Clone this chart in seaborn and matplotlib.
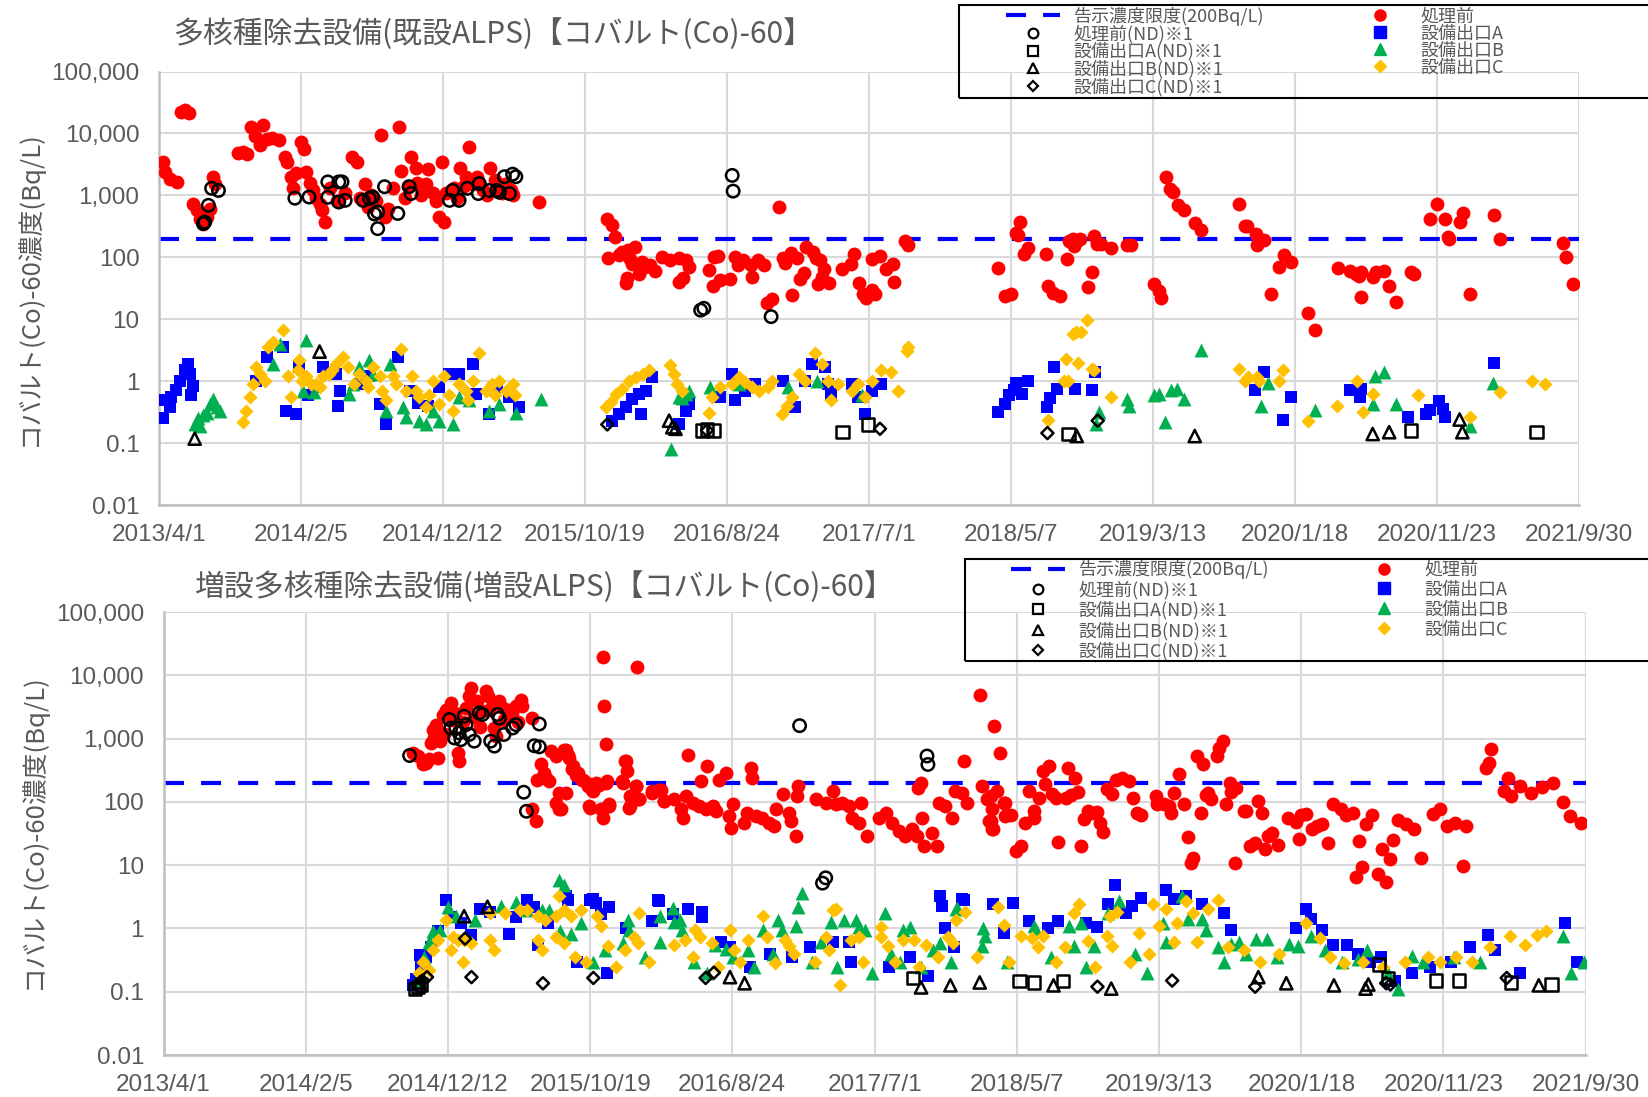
import pandas as pd
import matplotlib
matplotlib.use("Agg")
import matplotlib.pyplot as plt
import seaborn as sns
from matplotlib.lines import Line2D
from matplotlib.patches import Rectangle
from matplotlib.ticker import NullLocator

# ===== DATA =====
LIMIT = 200  # 告示濃度限度 (Bq/L)

TICK_DATES = ["2013-04-01", "2014-02-05", "2014-12-12", "2015-10-19", "2016-08-24",
              "2017-07-01", "2018-05-07", "2019-03-13", "2020-01-18", "2020-11-23", "2021-09-30"]
TICK_LABELS = ["2013/4/1", "2014/2/5", "2014/12/12", "2015/10/19", "2016/8/24",
               "2017/7/1", "2018/5/7", "2019/3/13", "2020/1/18", "2020/11/23", "2021/9/30"]
Y_TICKS = [0.01, 0.1, 1, 10, 100, 1000, 10000, 100000]
Y_LABELS = ["0.01", "0.1", "1", "10", "100", "1,000", "10,000", "100,000"]

TITLE_TOP = "多核種除去設備(既設ALPS)【コバルト(Co)-60】"
TITLE_BOTTOM = "増設多核種除去設備(増設ALPS)【コバルト(Co)-60】"
Y_TITLE = "コバルト(Co)-60濃度(Bq/L)"
LEGEND_LABELS = ["告示濃度限度(200Bq/L)", "処理前(ND)※1", "設備出口A(ND)※1", "設備出口B(ND)※1",
                 "設備出口C(ND)※1", "処理前", "設備出口A", "設備出口B", "設備出口C"]

# ---- 既設ALPS ----
top_red = [
    ("2013-04-09", 3500), ("2013-04-14", 2400), ("2013-04-25", 1850), ("2013-05-10", 1650),
    ("2013-05-20", 22000), ("2013-05-28", 24000), ("2013-06-05", 21000), ("2013-06-15", 730),
    ("2013-06-22", 570), ("2013-06-29", 420), ("2013-07-06", 350), ("2013-07-14", 450),
    ("2013-07-22", 600), ("2013-07-28", 2000), ("2013-08-01", 1500), ("2013-09-20", 4800),
    ("2013-10-01", 5000), ("2013-10-10", 4600), ("2013-10-20", 12500), ("2013-10-28", 9000),
    ("2013-11-08", 6500), ("2013-11-15", 13500), ("2013-11-22", 8000), ("2013-12-05", 8300),
    ("2013-12-20", 7800), ("2014-01-02", 4200), ("2014-01-06", 3500), ("2014-01-15", 2000),
    ("2014-01-20", 1300), ("2014-01-26", 2300), ("2014-02-06", 7300), ("2014-02-12", 5700),
    ("2014-02-17", 2400), ("2014-02-25", 1600), ("2014-03-03", 1200), ("2014-03-10", 900),
    ("2014-03-18", 730), ("2014-03-24", 570), ("2014-03-29", 370), ("2014-04-10", 1300),
    ("2014-04-25", 800), ("2014-05-12", 1100), ("2014-05-28", 4200), ("2014-06-08", 3500),
    ("2014-06-15", 900), ("2014-06-26", 1500), ("2014-07-02", 650), ("2014-07-08", 1000),
    ("2014-07-20", 800), ("2014-07-31", 9400), ("2014-08-08", 450), ("2014-08-15", 600),
    ("2014-08-25", 1300), ("2014-09-08", 12700), ("2014-09-12", 2500), ("2014-09-20", 900),
    ("2014-09-28", 1400), ("2014-10-04", 4200), ("2014-10-14", 2800), ("2014-10-18", 1600),
    ("2014-10-25", 1000), ("2014-11-05", 1500), ("2014-11-10", 2700), ("2014-11-20", 1100),
    ("2014-11-28", 800), ("2014-12-05", 450), ("2014-12-10", 3500), ("2014-12-16", 370),
    ("2014-12-20", 1100), ("2015-01-05", 1300), ("2015-01-12", 900), ("2015-01-20", 2800),
    ("2015-01-28", 1400), ("2015-02-01", 2000), ("2015-02-08", 6000), ("2015-02-15", 1500),
    ("2015-02-25", 2000), ("2015-03-01", 1600), ("2015-03-10", 1200), ("2015-03-18", 1000),
    ("2015-03-25", 2800), ("2015-04-05", 1800), ("2015-04-10", 1300), ("2015-04-20", 1100),
    ("2015-04-28", 1500), ("2015-05-10", 1200), ("2015-05-15", 1000), ("2015-07-11", 780),
    ("2015-12-07", 420), ("2015-12-17", 330), ("2015-12-24", 210), ("2015-12-08", 98),
    ("2016-01-02", 110), ("2016-01-09", 123), ("2016-01-16", 38), ("2016-01-20", 46),
    ("2016-01-22", 130), ("2016-01-25", 95), ("2016-01-30", 78), ("2016-02-06", 148),
    ("2016-02-14", 54), ("2016-02-20", 85), ("2016-02-28", 69), ("2016-03-09", 74),
    ("2016-03-20", 60), ("2016-04-05", 100), ("2016-04-23", 89), ("2016-05-11", 98),
    ("2016-05-12", 40), ("2016-05-20", 46), ("2016-05-27", 89), ("2016-06-03", 69),
    ("2016-07-16", 63), ("2016-07-26", 35), ("2016-07-27", 100), ("2016-08-04", 104),
    ("2016-08-09", 43), ("2016-09-01", 45), ("2016-09-12", 100), ("2016-09-18", 74),
    ("2016-09-29", 89), ("2016-10-17", 74), ("2016-10-18", 48), ("2016-10-31", 89),
    ("2016-11-14", 74), ("2016-11-19", 18), ("2016-11-30", 21), ("2016-12-16", 650),
    ("2016-12-26", 98), ("2016-12-30", 80), ("2017-01-11", 117), ("2017-01-13", 25),
    ("2017-01-25", 98), ("2017-02-01", 44), ("2017-02-08", 55), ("2017-02-14", 145),
    ("2017-02-28", 122), ("2017-03-07", 98), ("2017-03-12", 37), ("2017-03-15", 89),
    ("2017-03-20", 48), ("2017-03-25", 65), ("2017-04-05", 38), ("2017-05-04", 65),
    ("2017-05-22", 78), ("2017-05-29", 114), ("2017-06-10", 38), ("2017-06-17", 26),
    ("2017-06-24", 22), ("2017-07-07", 94), ("2017-07-08", 30), ("2017-07-15", 26),
    ("2017-07-25", 104), ("2017-08-08", 65), ("2017-08-22", 78), ("2017-08-25", 40),
    ("2017-09-17", 186), ("2017-09-24", 155),
    ("2018-04-08", 67), ("2018-04-25", 24), ("2018-05-07", 26), ("2018-05-18", 250),
    ("2018-05-22", 225), ("2018-05-28", 365), ("2018-06-05", 115), ("2018-06-13", 140),
    ("2018-07-24", 115), ("2018-07-28", 34), ("2018-08-08", 27), ("2018-08-22", 24),
    ("2018-09-07", 94), ("2018-09-11", 185), ("2018-09-19", 200), ("2018-09-23", 150),
    ("2018-09-27", 175), ("2018-10-06", 200), ("2018-10-22", 33), ("2018-10-31", 57),
    ("2018-11-05", 224), ("2018-11-12", 165), ("2018-11-20", 165), ("2018-12-11", 142),
    ("2019-01-17", 155), ("2019-01-25", 155), ("2019-03-17", 37), ("2019-03-26", 29),
    ("2019-03-31", 22), ("2019-04-11", 1990), ("2019-04-21", 1280), ("2019-04-27", 1130),
    ("2019-05-07", 690), ("2019-05-20", 575), ("2019-06-13", 360), ("2019-06-26", 278),
    ("2019-09-18", 725), ("2019-09-30", 325), ("2019-10-06", 325), ("2019-10-24", 240),
    ("2019-10-27", 155), ("2019-11-12", 190), ("2019-11-27", 26), ("2019-12-15", 70),
    ("2019-12-25", 110), ("2020-01-09", 83), ("2020-02-16", 12.5), ("2020-03-02", 6.8),
    ("2020-04-22", 67), ("2020-05-17", 59), ("2020-05-31", 54), ("2020-06-07", 50),
    ("2020-06-10", 23), ("2020-06-11", 57), ("2020-07-06", 48), ("2020-07-13", 57),
    ("2020-07-30", 59), ("2020-08-11", 35), ("2020-08-26", 19), ("2020-09-27", 57),
    ("2020-10-04", 54), ("2020-11-09", 415), ("2020-11-23", 730), ("2020-12-10", 415),
    ("2020-12-18", 215), ("2020-12-20", 200), ("2021-01-12", 370), ("2021-01-19", 510),
    ("2021-02-03", 26), ("2021-03-29", 490), ("2021-04-11", 200), ("2021-08-25", 170),
    ("2021-09-01", 100), ("2021-09-17", 37),
]
top_blue = [
    ("2013-04-09", 0.25), ("2013-04-14", 0.49), ("2013-04-25", 0.38), ("2013-04-28", 0.55),
    ("2013-05-09", 0.71), ("2013-05-16", 1.0), ("2013-05-27", 1.5), ("2013-06-03", 1.9),
    ("2013-06-07", 1.3), ("2013-06-10", 0.6), ("2013-06-15", 0.85), ("2013-10-31", 1.0),
    ("2013-11-22", 2.45), ("2013-12-28", 3.5), ("2014-01-04", 0.33), ("2014-01-26", 0.30),
    ("2014-02-02", 1.7), ("2014-02-20", 0.6), ("2014-03-05", 0.8), ("2014-03-25", 1.7),
    ("2014-04-23", 1.3), ("2014-04-27", 0.4), ("2014-05-01", 0.7), ("2014-06-15", 0.9),
    ("2014-07-05", 1.2), ("2014-07-27", 0.43), ("2014-08-11", 0.2), ("2014-09-05", 2.45),
    ("2014-10-01", 0.7), ("2014-10-20", 0.45), ("2014-11-10", 0.4), ("2014-12-05", 0.8),
    ("2014-12-27", 1.3), ("2015-01-17", 1.3), ("2015-02-16", 1.9), ("2015-02-23", 0.62),
    ("2015-03-24", 0.3), ("2015-04-10", 0.8), ("2015-05-05", 0.55), ("2015-05-28", 0.38),
    ("2015-12-18", 0.23), ("2016-01-02", 0.30), ("2016-01-16", 0.38), ("2016-01-31", 0.52),
    ("2016-02-14", 0.62), ("2016-02-18", 0.30), ("2016-02-29", 0.70), ("2016-03-14", 1.16),
    ("2016-05-11", 0.2), ("2016-05-26", 0.33), ("2016-06-02", 0.43), ("2016-08-10", 0.55),
    ("2016-09-05", 1.3), ("2016-09-12", 0.49), ("2016-10-04", 0.7), ("2016-10-25", 0.9),
    ("2016-12-26", 1.0), ("2017-01-21", 0.38), ("2017-02-11", 1.0), ("2017-02-26", 1.9),
    ("2017-03-27", 1.7), ("2017-04-03", 0.9), ("2017-04-10", 0.62), ("2017-05-24", 0.9),
    ("2017-06-07", 0.55), ("2017-06-22", 0.30), ("2017-07-07", 0.7), ("2017-07-28", 0.9),
    ("2018-04-08", 0.32), ("2018-04-25", 0.43), ("2018-05-03", 0.59), ("2018-05-15", 0.71),
    ("2018-05-19", 0.95), ("2018-05-31", 0.63), ("2018-06-13", 1.02), ("2018-07-26", 0.38),
    ("2018-08-01", 0.54), ("2018-08-09", 1.7), ("2018-08-17", 0.75), ("2018-09-24", 0.75),
    ("2018-11-01", 0.71), ("2018-11-06", 1.4), ("2019-10-23", 0.71), ("2019-11-12", 1.4),
    ("2019-12-23", 0.24), ("2020-01-09", 0.56), ("2020-05-17", 0.71), ("2020-06-08", 0.56),
    ("2020-06-10", 0.76), ("2020-09-21", 0.26), ("2020-10-30", 0.3), ("2020-11-09", 0.34),
    ("2020-11-28", 0.48), ("2020-12-06", 0.36), ("2020-12-10", 0.26), ("2021-03-29", 2.0),
]
top_green = [
    ("2013-06-19", 0.2), ("2013-06-26", 0.25), ("2013-06-29", 0.19), ("2013-07-07", 0.28),
    ("2013-07-14", 0.31), ("2013-07-21", 0.43), ("2013-07-28", 0.52), ("2013-08-05", 0.38),
    ("2013-08-12", 0.33), ("2013-12-06", 1.9), ("2013-12-21", 4.0), ("2014-02-10", 0.7),
    ("2014-02-17", 4.6), ("2014-03-05", 0.66), ("2014-05-22", 0.62), ("2014-05-30", 0.9),
    ("2014-06-13", 1.7), ("2014-07-05", 2.2), ("2014-07-12", 1.3), ("2014-08-11", 0.33),
    ("2014-08-18", 1.9), ("2014-09-16", 0.38), ("2014-09-23", 0.26), ("2014-10-22", 0.23),
    ("2014-11-06", 0.2), ("2014-11-20", 0.33), ("2014-12-05", 0.23), ("2015-01-03", 0.2),
    ("2015-01-17", 0.55), ("2015-02-08", 0.49), ("2015-03-24", 0.33), ("2015-04-15", 0.43),
    ("2015-05-21", 0.31), ("2015-07-15", 0.52), ("2016-04-24", 0.08), ("2016-05-11", 0.55),
    ("2016-05-18", 0.54), ("2016-05-26", 0.62), ("2016-06-02", 0.7), ("2016-07-19", 0.8),
    ("2016-09-20", 0.9), ("2017-01-05", 0.8), ("2017-03-10", 1.0), ("2017-06-15", 0.6),
    ("2018-11-09", 0.2), ("2018-11-16", 0.32), ("2019-01-17", 0.52), ("2019-01-21", 0.39),
    ("2019-03-17", 0.59), ("2019-03-27", 0.63), ("2019-04-08", 0.22), ("2019-04-23", 0.72),
    ("2019-05-05", 0.74), ("2019-05-20", 0.52), ("2019-06-26", 3.2), ("2019-11-05", 0.39),
    ("2019-11-21", 0.92), ("2020-03-02", 0.34), ("2020-07-07", 0.42), ("2020-07-11", 1.23),
    ("2020-07-30", 1.4), ("2020-08-26", 0.43), ("2021-02-03", 0.19), ("2021-03-27", 0.92),
]
top_gold = [
    ("2013-10-02", 0.22), ("2013-10-09", 0.33), ("2013-10-16", 0.55), ("2013-10-24", 0.9),
    ("2013-10-31", 1.7), ("2013-11-07", 1.3), ("2013-11-18", 1.0), ("2013-11-25", 3.5),
    ("2013-12-06", 4.3), ("2013-12-28", 6.6), ("2014-01-08", 1.2), ("2014-01-15", 0.55),
    ("2014-01-30", 1.5), ("2014-02-02", 2.2), ("2014-02-08", 1.0), ("2014-02-17", 1.2),
    ("2014-02-28", 0.9), ("2014-03-11", 0.9), ("2014-03-18", 0.8), ("2014-03-25", 1.2),
    ("2014-04-08", 1.3), ("2014-04-15", 1.5), ("2014-04-23", 1.9), ("2014-05-08", 2.45),
    ("2014-05-19", 1.7), ("2014-06-01", 0.9), ("2014-06-13", 1.3), ("2014-06-28", 1.0),
    ("2014-07-02", 0.8), ("2014-07-12", 1.7), ("2014-07-27", 1.2), ("2014-08-01", 0.7),
    ("2014-08-11", 0.49), ("2014-08-25", 1.2), ("2014-09-01", 0.9), ("2014-09-12", 3.3),
    ("2014-09-23", 0.7), ("2014-10-07", 1.2), ("2014-10-15", 0.7), ("2014-10-22", 0.55),
    ("2014-11-05", 0.38), ("2014-11-12", 0.6), ("2014-11-20", 1.0), ("2014-12-05", 0.43),
    ("2014-12-15", 1.2), ("2014-12-25", 0.6), ("2015-01-03", 0.33), ("2015-01-17", 0.9),
    ("2015-01-31", 0.7), ("2015-02-05", 0.5), ("2015-02-16", 1.0), ("2015-03-02", 2.8),
    ("2015-03-16", 0.7), ("2015-03-31", 0.9), ("2015-04-05", 0.6), ("2015-04-15", 1.0),
    ("2015-04-29", 0.7), ("2015-05-14", 0.9), ("2015-05-20", 0.6),
    ("2015-12-04", 0.38), ("2015-12-15", 0.46), ("2015-12-26", 0.62), ("2016-01-09", 0.75),
    ("2016-01-24", 1.0), ("2016-02-07", 1.16), ("2016-02-22", 1.3), ("2016-03-07", 1.5),
    ("2016-04-23", 1.8), ("2016-05-01", 1.3), ("2016-05-08", 0.9), ("2016-05-19", 0.7),
    ("2016-07-16", 0.31), ("2016-07-23", 0.55), ("2016-08-10", 0.8), ("2016-09-05", 0.9),
    ("2016-09-19", 1.16), ("2016-10-04", 0.96), ("2016-10-18", 0.8), ("2016-11-02", 0.7),
    ("2016-11-23", 0.8), ("2016-12-01", 1.0), ("2016-12-22", 0.3), ("2017-01-02", 0.4),
    ("2017-01-13", 0.55), ("2017-01-28", 1.3), ("2017-02-11", 1.0), ("2017-03-05", 2.8),
    ("2017-03-20", 1.9), ("2017-04-03", 1.0), ("2017-04-10", 0.49), ("2017-04-25", 0.9),
    ("2017-05-24", 0.7), ("2017-06-07", 0.9), ("2017-06-22", 0.55), ("2017-07-07", 1.0),
    ("2017-07-28", 1.5), ("2017-08-19", 1.4), ("2017-09-03", 0.7), ("2017-09-21", 3.1),
    ("2017-09-25", 3.6),
    ("2018-07-28", 0.24), ("2018-09-01", 1.0), ("2018-09-05", 2.3), ("2018-09-10", 1.0),
    ("2018-09-19", 5.8), ("2018-09-26", 6.2), ("2018-09-30", 2.0), ("2018-10-07", 6.3),
    ("2018-10-21", 9.8), ("2018-10-31", 1.6), ("2018-11-04", 1.5), ("2018-12-11", 0.56),
    ("2019-09-18", 1.6), ("2019-10-01", 1.0), ("2019-10-07", 1.16), ("2019-10-27", 1.16),
    ("2019-10-31", 1.0), ("2019-12-15", 1.0), ("2019-12-23", 1.5), ("2020-02-16", 0.23),
    ("2020-04-20", 0.39), ("2020-06-01", 1.0), ("2020-06-15", 0.32), ("2020-07-06", 0.62),
    ("2020-10-13", 0.59), ("2021-02-04", 0.26), ("2021-04-10", 0.66), ("2021-06-20", 1.0),
    ("2021-07-18", 0.9),
]
top_nd_pre = [
    ("2013-07-07", 350), ("2013-07-10", 370), ("2013-07-18", 690), ("2013-07-25", 1300),
    ("2013-08-09", 1200), ("2014-01-23", 900), ("2014-02-23", 940), ("2014-04-05", 1650),
    ("2014-04-05", 930), ("2014-04-29", 1650), ("2014-04-29", 780), ("2014-05-06", 1650),
    ("2014-05-13", 830), ("2014-06-21", 830), ("2014-07-05", 890), ("2014-07-12", 940),
    ("2014-07-16", 500), ("2014-07-23", 540), ("2014-07-23", 290), ("2014-08-07", 1380),
    ("2014-09-05", 510), ("2014-09-30", 1380), ("2014-10-04", 1070), ("2014-12-27", 830),
    ("2015-01-03", 1200), ("2015-01-17", 830), ("2015-02-04", 1300), ("2015-02-28", 1070),
    ("2015-03-02", 1550), ("2015-03-24", 1200), ("2015-04-09", 1200), ("2015-04-15", 1120),
    ("2015-04-26", 2000), ("2015-05-07", 1070), ("2015-05-14", 2200), ("2015-05-21", 2000),
    ("2016-06-28", 14), ("2016-07-05", 15), ("2016-09-05", 2100), ("2016-09-07", 1170),
    ("2016-11-29", 11),
]
top_nd_a = [("2016-07-01", 0.16), ("2016-07-12", 0.165), ("2016-07-26", 0.16), ("2017-05-04", 0.15),
            ("2017-06-29", 0.2), ("2018-09-10", 0.14), ("2020-09-27", 0.16), ("2021-06-29", 0.15)]
top_nd_b = [("2013-06-18", 0.118), ("2014-03-18", 3.0), ("2016-04-20", 0.23), ("2016-04-27", 0.18),
            ("2016-05-04", 0.17), ("2018-09-28", 0.13), ("2019-06-13", 0.13), ("2020-07-06", 0.14),
            ("2020-08-11", 0.15), ("2021-01-12", 0.24), ("2021-01-18", 0.15)]
top_nd_c = [("2015-12-07", 0.2), ("2016-07-12", 0.16), ("2017-07-25", 0.17), ("2018-07-26", 0.145),
            ("2018-11-13", 0.23)]

# ---- 増設ALPS ----
bot_red = [
    ("2014-09-27", 590), ("2014-10-08", 525), ("2014-10-19", 390), ("2014-10-26", 415),
    ("2014-11-02", 470), ("2014-11-06", 860), ("2014-11-09", 1390), ("2014-11-13", 1020),
    ("2014-11-17", 1660), ("2014-11-20", 490), ("2014-11-25", 900), ("2014-12-01", 2400),
    ("2014-12-05", 1200), ("2014-12-08", 2860), ("2014-12-19", 3650), ("2014-12-23", 2000),
    ("2014-12-28", 2500), ("2015-01-03", 590), ("2015-01-06", 440), ("2015-01-15", 1800),
    ("2015-01-20", 3000), ("2015-01-28", 4650), ("2015-02-01", 6300), ("2015-02-08", 2200),
    ("2015-02-15", 3900), ("2015-02-20", 1500), ("2015-02-26", 2700), ("2015-03-05", 5600),
    ("2015-03-09", 4650), ("2015-03-13", 2860), ("2015-03-20", 3500), ("2015-03-24", 1470),
    ("2015-03-27", 1090), ("2015-04-04", 3900), ("2015-04-11", 3050), ("2015-04-15", 2000),
    ("2015-04-25", 2860), ("2015-05-01", 2500), ("2015-05-10", 3250), ("2015-05-15", 1800),
    ("2015-05-21", 4100), ("2015-05-24", 3250), ("2015-06-15", 2100), ("2015-06-15", 76),
    ("2015-06-22", 49), ("2015-06-26", 225), ("2015-07-03", 390), ("2015-07-11", 290),
    ("2015-07-14", 240), ("2015-07-21", 215), ("2015-07-25", 630), ("2015-08-05", 525),
    ("2015-08-05", 95), ("2015-08-12", 138), ("2015-08-12", 76), ("2015-08-17", 76),
    ("2015-08-24", 670), ("2015-08-27", 670), ("2015-08-28", 138), ("2015-08-31", 560),
    ("2015-09-03", 490), ("2015-09-10", 325), ("2015-09-11", 365), ("2015-09-18", 270),
    ("2015-09-22", 290), ("2015-10-02", 225), ("2015-10-03", 225), ("2015-10-13", 200),
    ("2015-10-14", 178), ("2015-10-17", 85), ("2015-10-18", 81), ("2015-10-24", 155),
    ("2015-10-25", 148), ("2015-11-01", 200), ("2015-11-07", 185), ("2015-11-12", 76),
    ("2015-11-15", 76), ("2015-11-16", 56), ("2015-11-17", 19500), ("2015-11-18", 3300),
    ("2015-11-22", 830), ("2015-11-23", 200), ("2015-11-25", 215), ("2015-11-29", 91),
    ("2015-11-30", 85), ("2015-12-28", 215), ("2015-12-29", 200), ("2016-01-04", 435),
    ("2016-01-05", 435), ("2016-01-08", 305), ("2016-01-12", 81), ("2016-01-13", 123),
    ("2016-01-13", 85), ("2016-01-26", 178), ("2016-01-27", 178), ("2016-01-30", 13700),
    ("2016-02-02", 110), ("2016-02-03", 110), ("2016-03-02", 148), ("2016-03-03", 138),
    ("2016-03-18", 155), ("2016-03-21", 155), ("2016-03-28", 102), ("2016-03-29", 102),
    ("2016-04-20", 110), ("2016-05-04", 76), ("2016-05-08", 56), ("2016-05-15", 123),
    ("2016-05-19", 560), ("2016-05-30", 95), ("2016-06-13", 85), ("2016-06-17", 215),
    ("2016-06-28", 76), ("2016-07-01", 365), ("2016-07-12", 85), ("2016-07-19", 71),
    ("2016-07-27", 225), ("2016-08-10", 290), ("2016-08-17", 59), ("2016-08-21", 39),
    ("2016-08-25", 91), ("2016-09-19", 47), ("2016-09-26", 67), ("2016-10-04", 345),
    ("2016-10-07", 240), ("2016-10-15", 59), ("2016-10-29", 56), ("2016-11-13", 47),
    ("2016-11-23", 41), ("2016-11-27", 76), ("2016-12-12", 131), ("2016-12-26", 67),
    ("2016-12-30", 49), ("2017-01-10", 29), ("2017-01-13", 123), ("2017-01-15", 178),
    ("2017-02-22", 110), ("2017-03-16", 95), ("2017-03-31", 148), ("2017-04-07", 91),
    ("2017-04-21", 95), ("2017-05-06", 85), ("2017-05-13", 56), ("2017-05-28", 47),
    ("2017-05-31", 95), ("2017-06-15", 29), ("2017-07-10", 56), ("2017-07-25", 67),
    ("2017-08-08", 47), ("2017-08-23", 35), ("2017-09-06", 29), ("2017-09-21", 37),
    ("2017-10-02", 29), ("2017-10-04", 166), ("2017-10-09", 200), ("2017-10-13", 56),
    ("2017-10-16", 20), ("2017-11-03", 32), ("2017-11-14", 20), ("2017-11-18", 95),
    ("2017-12-02", 85), ("2017-12-17", 56), ("2017-12-24", 148), ("2018-01-08", 138),
    ("2018-01-11", 435), ("2018-01-19", 95), ("2018-02-15", 4800), ("2018-02-20", 178),
    ("2018-03-03", 110), ("2018-03-07", 49), ("2018-03-11", 123), ("2018-03-11", 49),
    ("2018-03-14", 76), ("2018-03-14", 37), ("2018-03-16", 37), ("2018-03-18", 1600),
    ("2018-03-25", 148), ("2018-04-01", 590), ("2018-04-09", 95), ("2018-04-12", 95),
    ("2018-04-12", 59), ("2018-04-16", 63), ("2018-04-24", 61), ("2018-05-05", 17),
    ("2018-05-16", 20), ("2018-05-25", 47), ("2018-06-02", 148), ("2018-06-14", 71),
    ("2018-06-14", 56), ("2018-06-24", 115), ("2018-07-03", 305), ("2018-07-08", 190),
    ("2018-07-16", 370), ("2018-07-23", 135), ("2018-08-01", 115), ("2018-08-05", 23),
    ("2018-08-22", 115), ("2018-08-27", 340), ("2018-09-03", 130), ("2018-09-10", 234),
    ("2018-09-18", 142), ("2018-09-23", 20), ("2018-09-30", 53), ("2018-10-10", 71),
    ("2018-10-21", 67), ("2018-10-30", 69), ("2018-11-05", 47), ("2018-11-12", 33),
    ("2018-11-19", 158), ("2018-11-30", 135), ("2018-12-10", 225), ("2018-12-22", 240),
    ("2019-01-06", 214), ("2019-01-16", 115), ("2019-01-24", 67), ("2019-02-01", 63),
    ("2019-03-06", 123), ("2019-03-09", 91), ("2019-03-24", 91), ("2019-04-04", 85),
    ("2019-04-08", 67), ("2019-04-15", 138), ("2019-04-26", 280), ("2019-05-07", 91),
    ("2019-05-15", 28), ("2019-05-21", 11), ("2019-05-26", 13), ("2019-06-04", 530),
    ("2019-06-12", 67), ("2019-06-17", 390), ("2019-06-24", 130), ("2019-06-28", 138),
    ("2019-07-05", 109), ("2019-07-18", 530), ("2019-07-23", 720), ("2019-07-31", 920),
    ("2019-08-06", 94), ("2019-08-15", 200), ("2019-08-18", 142), ("2019-08-26", 11),
    ("2019-08-29", 166), ("2019-09-14", 71), ("2019-09-20", 71), ("2019-09-28", 20),
    ("2019-10-09", 22), ("2019-10-16", 102), ("2019-10-23", 67), ("2019-10-31", 18),
    ("2019-11-06", 29), ("2019-11-14", 32), ("2019-11-28", 21), ("2019-12-20", 56),
    ("2020-01-06", 48), ("2020-01-12", 26), ("2020-01-18", 63), ("2020-01-27", 65),
    ("2020-02-11", 37), ("2020-02-22", 42), ("2020-03-04", 44), ("2020-03-15", 22),
    ("2020-03-26", 91), ("2020-04-13", 76), ("2020-04-24", 63), ("2020-05-09", 67),
    ("2020-05-16", 6.5), ("2020-05-22", 24), ("2020-05-29", 9.5), ("2020-06-07", 44),
    ("2020-06-20", 61), ("2020-07-03", 7.3), ("2020-07-12", 18), ("2020-07-20", 5.5),
    ("2020-07-29", 12.5), ("2020-08-04", 25), ("2020-08-16", 51), ("2020-09-03", 44),
    ("2020-09-20", 37), ("2020-10-05", 13), ("2020-11-01", 65), ("2020-11-16", 76),
    ("2020-12-01", 41), ("2020-12-19", 47), ("2021-01-05", 9.8), ("2021-01-11", 41),
    ("2021-02-23", 345), ("2021-03-03", 410), ("2021-03-06", 680), ("2021-04-05", 148),
    ("2021-04-12", 240), ("2021-04-19", 123), ("2021-05-10", 180), ("2021-06-01", 140),
    ("2021-06-25", 170), ("2021-07-20", 200), ("2021-08-10", 100), ("2021-08-25", 60),
    ("2021-09-20", 47),
]
bot_blue = [
    ("2014-09-27", 0.13), ("2014-10-05", 0.16), ("2014-10-13", 0.38), ("2014-10-15", 0.25),
    ("2014-10-25", 0.35), ("2014-11-05", 0.5), ("2014-11-20", 0.9), ("2014-12-08", 2.8),
    ("2014-12-20", 1.5), ("2015-01-10", 1.2), ("2015-02-01", 0.8), ("2015-02-20", 2.0),
    ("2015-03-15", 1.8), ("2015-04-24", 0.83), ("2015-05-10", 1.5), ("2015-06-03", 2.8),
    ("2015-06-19", 2.2), ("2015-06-27", 0.55), ("2015-07-20", 1.2), ("2015-08-28", 3.2),
    ("2015-08-31", 2.8), ("2015-09-20", 0.3), ("2015-10-18", 2.8), ("2015-10-25", 2.9),
    ("2015-11-01", 2.5), ("2015-11-11", 1.7), ("2015-11-25", 0.2), ("2015-11-30", 2.2),
    ("2016-01-05", 1.0), ("2016-03-03", 1.3), ("2016-03-15", 2.8), ("2016-03-18", 2.7),
    ("2016-04-16", 1.7), ("2016-05-20", 2.0), ("2016-06-18", 1.8), ("2016-06-19", 1.5),
    ("2016-07-30", 0.6), ("2016-08-20", 0.5), ("2016-10-01", 0.25), ("2016-11-15", 0.4),
    ("2017-01-01", 0.35), ("2017-02-10", 0.5), ("2017-04-01", 0.6), ("2017-05-06", 0.6),
    ("2017-05-10", 0.3), ("2017-08-01", 0.25), ("2017-09-15", 0.35), ("2017-10-25", 0.18),
    ("2017-11-21", 3.2), ("2017-11-25", 2.3), ("2017-12-01", 1.0), ("2017-12-20", 0.5),
    ("2018-01-08", 2.9), ("2018-01-11", 2.8), ("2018-03-15", 2.4), ("2018-04-08", 0.85),
    ("2018-04-28", 2.5), ("2018-06-02", 1.3), ("2018-07-15", 1.0), ("2018-08-04", 1.3),
    ("2018-10-06", 1.2), ("2018-10-30", 1.05), ("2018-11-23", 2.4), ("2018-12-08", 4.9),
    ("2019-01-01", 1.75), ("2019-01-13", 2.3), ("2019-02-02", 3.0), ("2019-03-29", 4.1),
    ("2019-04-14", 2.9), ("2019-05-11", 3.3), ("2019-06-16", 2.4), ("2019-08-02", 1.75),
    ("2019-08-18", 0.95), ("2020-01-07", 1.0), ("2020-01-27", 2.0), ("2020-02-07", 1.4),
    ("2020-03-02", 0.95), ("2020-03-26", 0.55), ("2020-04-26", 0.55), ("2020-05-20", 0.4),
    ("2020-06-15", 0.3), ("2020-07-10", 0.35), ("2020-08-10", 0.15), ("2020-09-15", 0.2),
    ("2020-10-25", 0.25), ("2020-12-10", 0.3), ("2021-01-20", 0.5), ("2021-02-28", 0.8),
    ("2021-03-15", 0.45), ("2021-05-10", 0.2), ("2021-08-15", 1.2), ("2021-09-10", 0.3),
]
bot_green = [
    ("2014-10-05", 0.15), ("2014-10-12", 0.2), ("2014-10-21", 0.36), ("2014-11-01", 0.6),
    ("2014-11-06", 0.58), ("2014-11-10", 0.9), ("2014-11-26", 0.94), ("2014-12-12", 2.2),
    ("2014-12-30", 1.6), ("2015-02-10", 1.35), ("2015-04-08", 2.3), ("2015-05-10", 2.6),
    ("2015-06-03", 1.95), ("2015-07-05", 1.95), ("2015-07-21", 1.95), ("2015-08-13", 5.8),
    ("2015-08-15", 0.9), ("2015-08-23", 4.8), ("2015-09-08", 0.83), ("2015-09-28", 1.2),
    ("2015-10-25", 0.3), ("2015-11-20", 0.45), ("2015-12-29", 0.58), ("2016-01-10", 1.35),
    ("2016-01-12", 0.94), ("2016-02-15", 0.35), ("2016-03-19", 1.55), ("2016-03-20", 0.6),
    ("2016-04-16", 2.1), ("2016-04-20", 1.27), ("2016-05-02", 1.35), ("2016-05-06", 0.94),
    ("2016-06-01", 0.3), ("2016-07-01", 0.2), ("2016-07-18", 0.55), ("2016-08-11", 0.48),
    ("2016-08-25", 0.35), ("2016-09-28", 0.46), ("2016-10-10", 0.25), ("2016-10-30", 0.94),
    ("2016-11-20", 0.4), ("2016-12-01", 1.35), ("2016-12-10", 0.94), ("2017-01-11", 1.1),
    ("2017-01-15", 2.2), ("2017-01-23", 3.6), ("2017-02-15", 0.3), ("2017-03-05", 0.6),
    ("2017-03-28", 1.27), ("2017-04-10", 0.25), ("2017-04-25", 1.35), ("2017-05-20", 1.35),
    ("2017-05-28", 1.06), ("2017-06-09", 0.94), ("2017-06-25", 0.2), ("2017-07-23", 1.75),
    ("2017-08-05", 0.4), ("2017-08-25", 0.3), ("2017-09-01", 0.94), ("2017-09-17", 1.06),
    ("2017-10-10", 0.25), ("2017-11-05", 0.45), ("2017-11-21", 0.58), ("2017-12-15", 0.3),
    ("2017-12-26", 2.0), ("2017-12-27", 2.1), ("2018-02-19", 0.53), ("2018-02-23", 1.02),
    ("2018-02-27", 0.76), ("2018-04-15", 0.3), ("2018-06-14", 1.1), ("2018-06-18", 0.96),
    ("2018-07-20", 0.35), ("2018-08-28", 1.1), ("2018-09-09", 0.53), ("2018-09-24", 1.2),
    ("2018-10-05", 0.25), ("2018-10-22", 0.53), ("2018-11-23", 1.75), ("2018-12-16", 2.7),
    ("2019-01-20", 0.4), ("2019-02-15", 0.2), ("2019-03-21", 1.2), ("2019-03-29", 0.6),
    ("2019-05-03", 3.2), ("2019-05-15", 1.4), ("2019-06-16", 1.4), ("2019-06-24", 0.96),
    ("2019-07-21", 0.5), ("2019-08-01", 0.3), ("2019-08-18", 0.56), ("2019-09-03", 0.6),
    ("2019-09-20", 0.4), ("2019-10-12", 0.67), ("2019-11-05", 0.67), ("2019-11-25", 0.35),
    ("2019-12-22", 0.56), ("2020-01-11", 0.53), ("2020-02-07", 0.76), ("2020-03-10", 0.45),
    ("2020-04-15", 0.3), ("2020-05-20", 0.33), ("2020-06-10", 0.45), ("2020-07-25", 0.2),
    ("2020-08-15", 0.11), ("2020-09-15", 0.37), ("2020-10-10", 0.3), ("2020-12-15", 0.35),
    ("2021-02-10", 0.3), ("2021-08-10", 0.75), ("2021-08-28", 0.2), ("2021-09-25", 0.3),
]
bot_gold = [
    ("2014-10-10", 0.2), ("2014-10-20", 0.3), ("2014-11-01", 0.22), ("2014-11-10", 0.45),
    ("2014-11-22", 0.66), ("2014-12-08", 1.35), ("2014-12-20", 0.45), ("2014-12-24", 0.74),
    ("2015-01-03", 0.66), ("2015-01-15", 0.3), ("2015-01-17", 0.66), ("2015-02-02", 0.58),
    ("2015-03-15", 1.75), ("2015-03-15", 0.66), ("2015-03-23", 0.46), ("2015-04-16", 1.75),
    ("2015-05-18", 1.95), ("2015-06-03", 1.95), ("2015-06-27", 1.55), ("2015-06-27", 0.66),
    ("2015-07-05", 0.46), ("2015-07-13", 1.35), ("2015-08-06", 1.55), ("2015-08-06", 0.74),
    ("2015-08-13", 3.2), ("2015-08-23", 1.95), ("2015-08-23", 0.58), ("2015-09-08", 1.55),
    ("2015-09-16", 0.36), ("2015-09-28", 1.95), ("2015-10-10", 0.3), ("2015-11-03", 1.55),
    ("2015-11-11", 1.1), ("2015-11-27", 0.52), ("2015-12-15", 0.25), ("2016-01-02", 0.46),
    ("2016-01-22", 0.74), ("2016-02-01", 0.58), ("2016-02-03", 1.75), ("2016-02-25", 0.3),
    ("2016-04-20", 0.55), ("2016-05-14", 0.66), ("2016-05-30", 0.35), ("2016-06-03", 0.94),
    ("2016-06-15", 0.74), ("2016-07-10", 0.58), ("2016-07-25", 0.25), ("2016-08-19", 0.94),
    ("2016-08-27", 0.46), ("2016-09-10", 0.3), ("2016-09-28", 0.66), ("2016-10-30", 1.6),
    ("2016-11-07", 0.74), ("2016-11-25", 0.28), ("2016-12-18", 0.66), ("2016-12-26", 0.52),
    ("2017-01-05", 0.4), ("2017-02-20", 0.3), ("2017-03-16", 0.74), ("2017-03-24", 0.46),
    ("2017-04-01", 1.95), ("2017-04-07", 2.0), ("2017-04-17", 0.13), ("2017-05-11", 0.66),
    ("2017-05-28", 0.74), ("2017-06-05", 0.3), ("2017-07-15", 1.06), ("2017-07-15", 0.74),
    ("2017-07-31", 0.52), ("2017-08-15", 0.3), ("2017-09-01", 0.66), ("2017-09-25", 0.66),
    ("2017-10-05", 0.25), ("2017-10-20", 0.55), ("2017-11-15", 0.35), ("2017-12-07", 0.74),
    ("2017-12-19", 0.58), ("2017-12-26", 1.38), ("2018-01-15", 1.85), ("2018-02-10", 0.35),
    ("2018-03-27", 2.2), ("2018-04-08", 1.15), ("2018-04-20", 0.3), ("2018-05-17", 0.76),
    ("2018-06-10", 0.71), ("2018-06-22", 0.5), ("2018-07-04", 0.76), ("2018-08-01", 0.3),
    ("2018-08-20", 0.5), ("2018-09-09", 1.75), ("2018-09-20", 2.4), ("2018-10-10", 0.63),
    ("2018-10-25", 0.25), ("2018-11-19", 0.76), ("2018-11-27", 1.55), ("2018-12-01", 0.53),
    ("2018-12-12", 1.85), ("2019-01-10", 0.3), ("2019-01-29", 0.86), ("2019-02-20", 0.4),
    ("2019-03-01", 2.4), ("2019-03-13", 1.1), ("2019-03-29", 2.0), ("2019-04-14", 0.6),
    ("2019-04-22", 1.2), ("2019-05-11", 2.7), ("2019-05-27", 1.75), ("2019-06-04", 0.6),
    ("2019-06-28", 2.0), ("2019-07-21", 2.8), ("2019-08-10", 0.5), ("2019-09-15", 0.45),
    ("2019-10-20", 0.3), ("2019-12-01", 0.4), ("2020-01-27", 1.2), ("2020-02-27", 0.71),
    ("2020-03-20", 0.35), ("2020-04-20", 0.28), ("2020-06-01", 0.3), ("2020-07-15", 0.25),
    ("2020-09-01", 0.3), ("2020-10-20", 0.35), ("2020-11-15", 0.3), ("2020-12-20", 0.35),
    ("2021-01-25", 0.3), ("2021-03-04", 0.5), ("2021-04-17", 0.76), ("2021-05-20", 0.55),
    ("2021-06-15", 0.8), ("2021-07-05", 0.9),
]
bot_nd_pre = [
    ("2014-09-20", 540), ("2014-12-16", 2000), ("2014-12-19", 1470), ("2014-12-27", 1020),
    ("2014-12-30", 1470), ("2015-01-06", 1230), ("2015-01-10", 960), ("2015-01-17", 2250),
    ("2015-01-21", 1660), ("2015-01-28", 1160), ("2015-02-08", 910), ("2015-02-19", 2540),
    ("2015-02-26", 2400), ("2015-03-16", 910), ("2015-03-24", 760), ("2015-03-31", 2400),
    ("2015-04-04", 2100), ("2015-04-14", 1160), ("2015-05-03", 1470), ("2015-05-10", 1660),
    ("2015-05-27", 142), ("2015-06-02", 71), ("2015-06-19", 770), ("2015-06-30", 740),
    ("2015-06-30", 1700), ("2017-01-18", 1600), ("2017-03-09", 5.2), ("2017-03-16", 6.3),
    ("2017-10-23", 530), ("2017-10-25", 390),
]
bot_nd_a = [("2014-10-01", 0.11), ("2014-10-08", 0.12), ("2014-10-15", 0.13), ("2017-09-22", 0.165),
            ("2018-05-13", 0.147), ("2018-06-14", 0.14), ("2018-08-15", 0.147), ("2020-07-05", 0.27),
            ("2020-07-25", 0.165), ("2020-11-06", 0.15), ("2020-12-27", 0.15), ("2021-04-20", 0.14),
            ("2021-07-17", 0.13)]
bot_nd_b = [("2014-10-12", 0.14), ("2015-01-17", 1.56), ("2015-03-09", 2.2), ("2016-08-19", 0.17),
            ("2016-09-20", 0.136), ("2017-10-10", 0.117), ("2017-12-13", 0.126), ("2018-02-15", 0.14),
            ("2018-07-26", 0.126), ("2018-11-29", 0.112), ("2019-10-16", 0.17), ("2019-12-16", 0.136),
            ("2020-03-29", 0.126), ("2020-06-06", 0.112), ("2020-06-12", 0.13), ("2021-06-19", 0.126)]
bot_nd_c = [("2014-10-18", 0.15), ("2014-10-28", 0.17), ("2015-01-19", 0.69), ("2015-02-02", 0.17),
            ("2015-07-08", 0.136), ("2015-10-26", 0.165), ("2016-06-27", 0.165), ("2016-07-15", 0.2),
            ("2018-10-30", 0.12), ("2019-04-11", 0.15), ("2019-10-09", 0.12), ("2020-07-21", 0.136),
            ("2020-07-30", 0.13), ("2021-04-10", 0.165)]

# ===== STYLE =====
W, H = 1648, 1097
GRAY_TEXT = "#595959"
FILLED = [("o", "#FF0000", 100), ("s", "#0000FF", 80), ("^", "#00B050", 100), ("D", "#FFC000", 52)]
OPEN = [("o", 80), ("s", 78), ("^", 78), ("D", 38)]

sns.set_theme(style="white")
plt.rcParams['font.family'] = ['Noto Sans CJK JP', 'DejaVu Sans']


def to_df(points):
    df = pd.DataFrame(points, columns=["date", "value"])
    df["date"] = pd.to_datetime(df["date"])
    return df


def draw_panel(ax, filled, open_nd):
    ax.axhline(LIMIT, color="#0000FF", lw=3, dashes=(4.8, 4.1), zorder=2)
    for z, (pts, (mk, col, size)) in enumerate(zip(filled, FILLED)):
        sns.scatterplot(data=to_df(pts), x="date", y="value", ax=ax, marker=mk,
                        color=col, s=size, linewidth=0, legend=False, zorder=3 + z)
    for pts, (mk, size) in zip(open_nd, OPEN):
        sns.scatterplot(data=to_df(pts), x="date", y="value", ax=ax, marker=mk,
                        facecolor="none", edgecolor="black", s=size, linewidth=1.8,
                        legend=False, zorder=8)

    ax.set_yscale("log")
    ax.set_ylim(0.01, 100000)
    ax.set_yticks(Y_TICKS)
    ax.set_yticklabels(Y_LABELS)
    ax.yaxis.set_minor_locator(NullLocator())
    ax.set_xlim(pd.Timestamp(TICK_DATES[0]), pd.Timestamp(TICK_DATES[-1]))
    ax.set_xticks(pd.to_datetime(TICK_DATES))
    ax.set_xticklabels(TICK_LABELS)
    ax.set_xlabel("")
    ax.set_ylabel("")
    ax.grid(True, color="#d9d9d9", lw=1.5)
    ax.set_axisbelow(True)
    for side in ["top", "right"]:
        ax.spines[side].set_visible(False)
    for side in ["left", "bottom"]:
        ax.spines[side].set_color("#bfbfbf")
        ax.spines[side].set_linewidth(1.8)
    ax.tick_params(length=0, labelsize=17.5, labelcolor=GRAY_TEXT)
    ax.tick_params(axis="x", pad=14)
    ax.tick_params(axis="y", pad=14)
    for lbl in ax.get_xticklabels() + ax.get_yticklabels():
        lbl.set_fontfamily(["Liberation Sans", "DejaVu Sans"])


def add_legend(fig, x_px, top_px, fontsize, spacing, colspace, box):
    handles = [Line2D([], [], color="#0000FF", lw=3, dashes=(4.8, 4.1))]
    for mk, _ in OPEN:
        handles.append(Line2D([], [], marker=mk, ls="none", mfc="none", mec="black",
                              mew=1.6, ms=7 if mk != "D" else 5))
    for mk, col, _ in FILLED:
        handles.append(Line2D([], [], marker=mk, ls="none", color=col,
                              ms=8 if mk != "D" else 6))
    fig.legend(handles, LEGEND_LABELS, loc="upper left", ncol=2,
               bbox_to_anchor=(x_px / W, 1 - top_px / H), frameon=False,
               fontsize=fontsize, labelcolor=GRAY_TEXT, handlelength=3.0,
               handletextpad=0.75, columnspacing=colspace, labelspacing=spacing,
               borderpad=0, borderaxespad=0)
    x0, y0, y1 = box
    fig.add_artist(Rectangle((x0 / W, 1 - y1 / H), (W + 20 - x0) / W, (y1 - y0) / H,
                             transform=fig.transFigure, fill=False, edgecolor="black",
                             lw=1.5, clip_on=False))


fig = plt.figure(figsize=(W / 100, H / 100), dpi=100)
ax_top = fig.add_axes([159 / W, 1 - 505 / H, 1420 / W, 433.5 / H])
ax_bot = fig.add_axes([163.5 / W, 1 - 1055 / H, 1422.5 / W, 443 / H])

draw_panel(ax_top, [top_red, top_blue, top_green, top_gold],
           [top_nd_pre, top_nd_a, top_nd_b, top_nd_c])
draw_panel(ax_bot, [bot_red, bot_blue, bot_green, bot_gold],
           [bot_nd_pre, bot_nd_a, bot_nd_b, bot_nd_c])

fig.text(173 / W, 1 - 34 / H, TITLE_TOP, fontsize=21.5, color=GRAY_TEXT, ha="left", va="center")
fig.text(194.5 / W, 1 - 587.5 / H, TITLE_BOTTOM, fontsize=21.5, color=GRAY_TEXT, ha="left", va="center")
fig.text(29.5 / W, 1 - 288 / H, Y_TITLE, fontsize=18.5, color=GRAY_TEXT, rotation=90,
         ha="center", va="center")
fig.text(33.5 / W, 1 - 831 / H, Y_TITLE, fontsize=18.5, color=GRAY_TEXT, rotation=90,
         ha="center", va="center")

add_legend(fig, 1006, 6.5, 13, -0.05, 4.9, (959, 5, 98))
add_legend(fig, 1011, 560, 13, 0.1, 4.85, (965, 559, 661))

fig.savefig("out.png", dpi=100)
plt.close(fig)
print("[INFO] out.png saved")
